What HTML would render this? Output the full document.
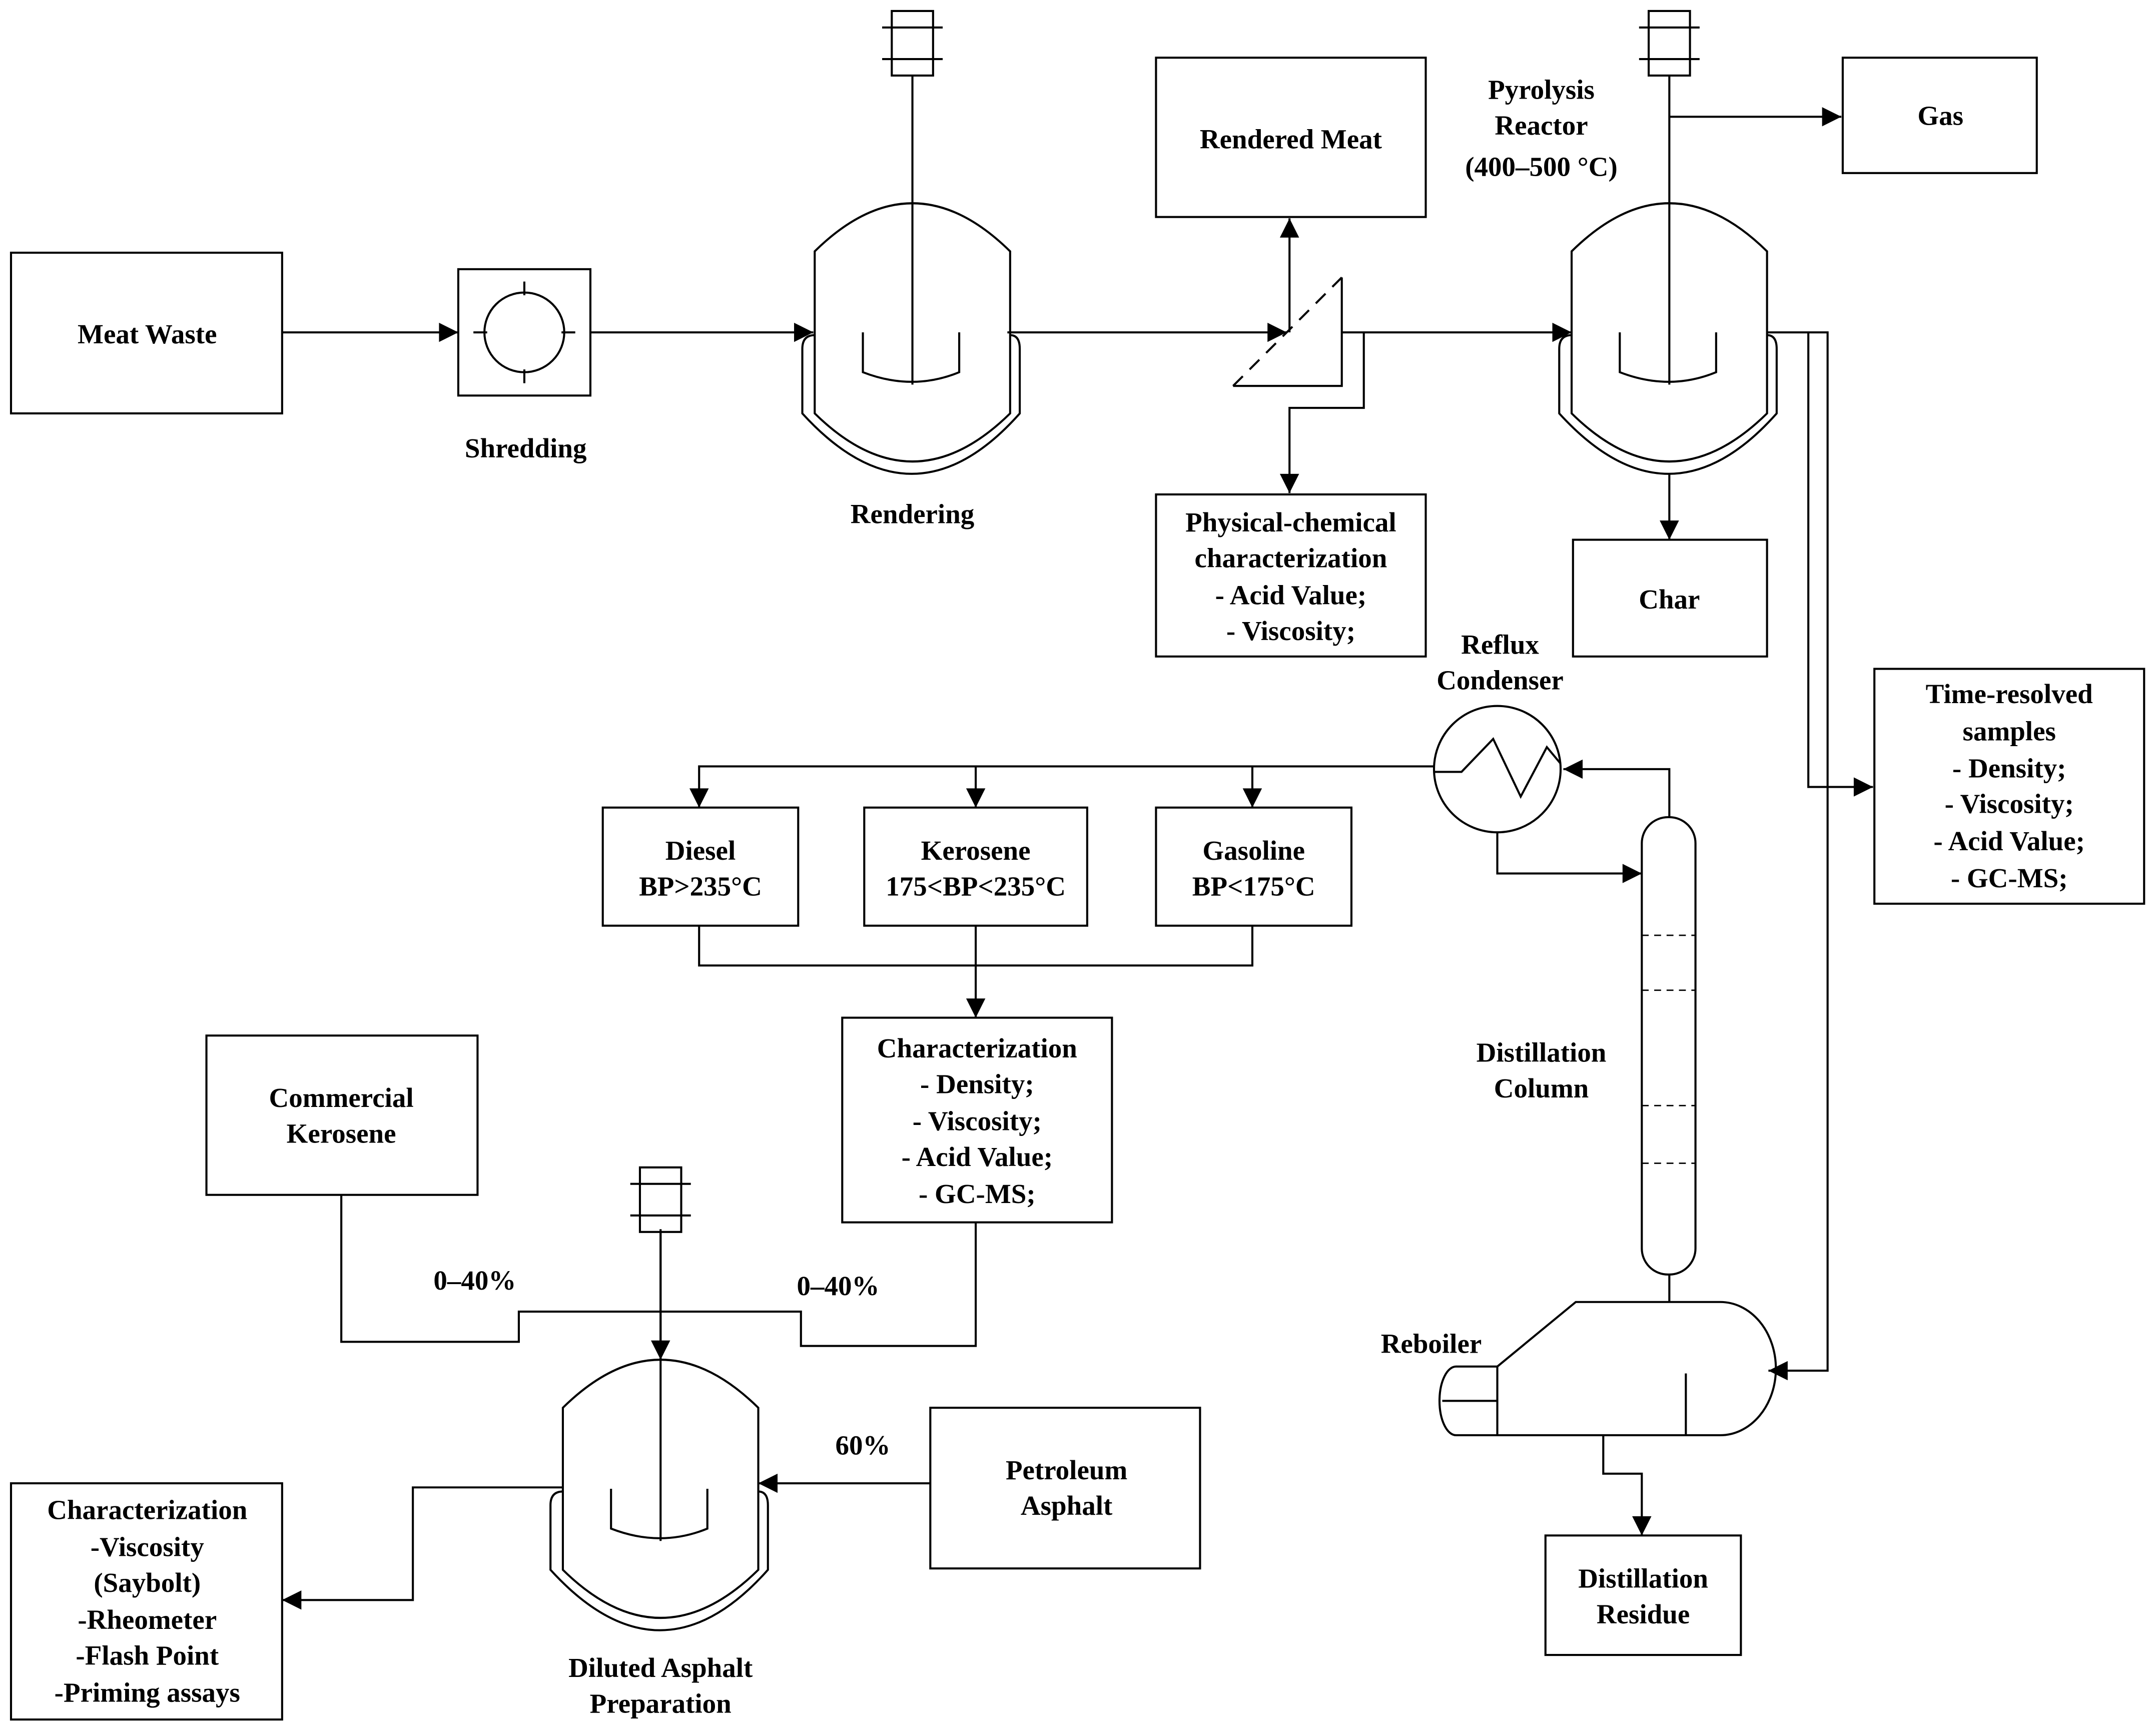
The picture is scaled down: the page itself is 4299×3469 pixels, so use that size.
<!DOCTYPE html>
<html><head><meta charset="utf-8"><style>
html,body{margin:0;padding:0;background:#fff;}
svg{display:block;}
text{font-family:"Liberation Serif",serif;font-weight:bold;font-size:20px;fill:#000;text-anchor:middle;}
</style></head><body>
<svg width="4299" height="3469" viewBox="0 0 1563 1264" preserveAspectRatio="none" xmlns="http://www.w3.org/2000/svg">
<defs>
<marker id="b" viewBox="0 0 10 10" refX="10" refY="5" markerWidth="18" markerHeight="14" orient="auto" markerUnits="userSpaceOnUse"><path d="M0,0L10,5L0,10z" fill="#000"/></marker>
<g id="reac" fill="none" stroke="#000" stroke-width="1.5">
<path d="M-71,35 Q0,-35 71,35 L71,153 Q0,223 -71,153 Z"/>
<path d="M-71,96 Q-80,96 -80,106 L-80,153 Q0,241 78,153 L78,106 Q78,96 71,96"/>
<path d="M-36,94 V123 Q0,137 34,123 V94"/>
<rect x="-15" y="-140" width="30" height="47"/>
<path d="M-22,-128h44M-22,-105h44"/>
<path d="M0,-93V132"/>
</g>
</defs>
<g fill="none" stroke="#000" stroke-width="1.5">
<rect x="8" y="184" width="197" height="117"/>
<rect x="840" y="42" width="196" height="116"/>
<rect x="840" y="360" width="196" height="118"/>
<rect x="1339" y="42" width="141" height="84"/>
<rect x="1143" y="393" width="141" height="85"/>
<rect x="1362" y="487" width="196" height="171"/>
<rect x="438" y="588" width="142" height="86"/>
<rect x="628" y="588" width="162" height="86"/>
<rect x="840" y="588" width="142" height="86"/>
<rect x="612" y="741" width="196" height="149"/>
<rect x="150" y="754" width="197" height="116"/>
<rect x="676" y="1025" width="196" height="117"/>
<rect x="8" y="1080" width="197" height="172"/>
<rect x="1123" y="1118" width="142" height="87"/>

<rect x="333" y="196" width="96" height="92"/>
<circle cx="381" cy="242" r="29"/>
<path d="M381,205v10M381,269v10M344,242h10M408,242h10"/>

<!-- separator -->
<path d="M896,281 L975,202" stroke-dasharray="10,7"/>
<path d="M975,202 V281 H896"/>

<path d="M205,242H333" marker-end="url(#b)"/>
<path d="M429,242H591" marker-end="url(#b)"/>
<path d="M732,242H935" marker-end="url(#b)"/>
<path d="M937,242V159" marker-end="url(#b)"/>
<path d="M975,242H1142" marker-end="url(#b)"/>
<path d="M991,242V297H937V359" marker-end="url(#b)"/>
<path d="M1213,85H1338" marker-end="url(#b)"/>
<path d="M1213,345V393" marker-end="url(#b)"/>
<path d="M1284,242H1328V998H1285" marker-end="url(#b)"/>
<path d="M1314,242V573H1361" marker-end="url(#b)"/>

<circle cx="1088" cy="560" r="46"/>
<path d="M1042,562 L1062,562 L1085,538 L1105,580 L1124,544 L1134,556"/>
<path d="M1213,595V560H1136" marker-end="url(#b)"/>
<path d="M1088,606V636H1193" marker-end="url(#b)"/>
<path d="M1042,558H508V588" marker-end="url(#b)"/>
<path d="M709,558V588" marker-end="url(#b)"/>
<path d="M910,558V588" marker-end="url(#b)"/>
<path d="M508,674V703H910V674"/>
<path d="M709,674V741" marker-end="url(#b)"/>

<rect x="1193" y="595" width="39" height="333" rx="19"/>
<path d="M1193,681h39M1193,721h39M1193,805h39M1193,847h39" stroke-dasharray="5,4" stroke-width="1"/>
<path d="M1213,928V948"/>
<path d="M1088,995 L1145,948 H1250 A40,48 0 0 1 1250,1045 H1088 Z"/>
<path d="M1088,995 H1058 A12,25 0 0 0 1058,1045 H1088"/>
<path d="M1048,1020H1088"/>
<path d="M1225,1000V1045"/>
<path d="M1165,1045V1073H1193V1118" marker-end="url(#b)"/>

<path d="M248,870V977H377V955H582V980H709V890"/>
<path d="M480,895V990" marker-end="url(#b)"/>
<path d="M676,1080H551" marker-end="url(#b)"/>
<path d="M409,1083H300V1165H205" marker-end="url(#b)"/>
</g>
<use href="#reac" x="663" y="148"/>
<use href="#reac" x="1213" y="148"/>
<use href="#reac" x="480" y="990"/>

<text x="107" y="250">Meat Waste</text>
<text x="382" y="333">Shredding</text>
<text x="663" y="381">Rendering</text>
<text x="938" y="108">Rendered Meat</text>
<text x="938" y="387">Physical-chemical</text>
<text x="938" y="413">characterization</text>
<text x="938" y="440">- Acid Value;</text>
<text x="938" y="466">- Viscosity;</text>
<text x="1120" y="72">Pyrolysis</text>
<text x="1120" y="98">Reactor</text>
<text x="1120" y="128">(400–500 °C)</text>
<text x="1410" y="91">Gas</text>
<text x="1213" y="443">Char</text>
<text x="1090" y="476">Reflux</text>
<text x="1090" y="502">Condenser</text>
<text x="1460" y="512">Time-resolved</text>
<text x="1460" y="539">samples</text>
<text x="1460" y="566">- Density;</text>
<text x="1460" y="592">- Viscosity;</text>
<text x="1460" y="619">- Acid Value;</text>
<text x="1460" y="646">- GC-MS;</text>
<text x="509" y="626">Diesel</text>
<text x="509" y="652">BP&gt;235°C</text>
<text x="709" y="626">Kerosene</text>
<text x="709" y="652">175&lt;BP&lt;235°C</text>
<text x="911" y="626">Gasoline</text>
<text x="911" y="652">BP&lt;175°C</text>
<text x="710" y="770">Characterization</text>
<text x="710" y="796">- Density;</text>
<text x="710" y="823">- Viscosity;</text>
<text x="710" y="849">- Acid Value;</text>
<text x="710" y="876">- GC-MS;</text>
<text x="1120" y="773">Distillation</text>
<text x="1120" y="799">Column</text>
<text x="248" y="806">Commercial</text>
<text x="248" y="832">Kerosene</text>
<text x="345" y="939">0–40%</text>
<text x="609" y="943">0–40%</text>
<text x="627" y="1059">60%</text>
<text x="1040" y="985">Reboiler</text>
<text x="775" y="1077">Petroleum</text>
<text x="775" y="1103">Asphalt</text>
<text x="1194" y="1156">Distillation</text>
<text x="1194" y="1182">Residue</text>
<text x="107" y="1106">Characterization</text>
<text x="107" y="1133">-Viscosity</text>
<text x="107" y="1159">(Saybolt)</text>
<text x="107" y="1186">-Rheometer</text>
<text x="107" y="1212">-Flash Point</text>
<text x="107" y="1239">-Priming assays</text>
<text x="480" y="1221">Diluted Asphalt</text>
<text x="480" y="1247">Preparation</text>
</svg>
</body></html>
